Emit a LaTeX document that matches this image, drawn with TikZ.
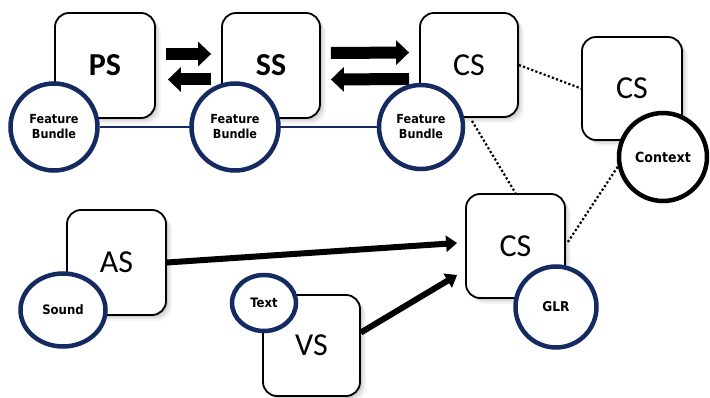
\documentclass[tikz,border=0pt]{standalone}
\usepackage{fontspec}
\setmainfont{Carlito}
\newfontfamily\smallf[FakeStretch=0.9]{DejaVu Sans}
\usetikzlibrary{arrows.meta,shadows,calc,shapes.geometric}
\definecolor{navy}{RGB}{20,42,96}
\pgfdeclarelayer{bg}
\pgfsetlayers{bg,main}
\begin{document}
\begin{tikzpicture}[x=1pt,y=-1pt,
  box/.style={draw=black, line width=1.8pt, rounded corners=14pt, fill=white,
    minimum width=99pt, minimum height=104pt, inner sep=0pt,
    drop shadow={shadow xshift=2pt,shadow yshift=-2pt,opacity=.10,fill=black},
    drop shadow={shadow xshift=4pt,shadow yshift=-4pt,opacity=.07,fill=black},
    drop shadow={shadow xshift=6pt,shadow yshift=-6pt,opacity=.04,fill=black},
    font=\fontsize{32}{34}\selectfont},
  boldbox/.style={box, font=\bfseries\fontsize{32}{34}\selectfont},
  bub/.style={circle, draw=navy, line width=4.5pt, fill=white, inner sep=0pt,
    align=center, font=\smallf\bfseries\fontsize{12.5}{15}\selectfont},
  ebub/.style={ellipse, draw=navy, line width=4.5pt, fill=white, inner sep=0pt,
    align=center, font=\smallf\bfseries\fontsize{13}{15}\selectfont},
  blockarr/.style={line width=12pt, -{Triangle[length=13pt,width=24pt]}},
  thickarr/.style={line width=6pt, -{Triangle[length=11pt,width=16pt]}},
  dotline/.style={line width=2.2pt, dash pattern=on 2.2pt off 2.2pt}
]
\useasboundingbox (0,0) rectangle (710,398);

% boxes
\node[boldbox, minimum width=100pt, minimum height=105pt] (ps) at (105,65.5) {PS};
\node[boldbox, minimum width=98pt, minimum height=105pt] (ss) at (271,65.5) {SS};
\node[box, minimum width=98pt] (cs1) at (469,65) {CS};
\node[box, minimum width=100pt, minimum height=103pt] (cs2) at (632,88.5) {CS};
\node[box] (csm) at (515.5,246) {CS};
\node[box, minimum height=105pt] (as) at (116.5,262.5) {AS};
\node[box, minimum width=97pt, minimum height=101pt] (vs) at (311.5,345.5) {VS};

% bubbles
\node[bub, minimum size=87pt] (fb1) at (54,127) {Feature\\Bundle};
\node[bub, minimum size=87pt] (fb2) at (235,127) {Feature\\Bundle};
\node[bub, minimum size=84pt] (fb3) at (421,127) {Feature\\Bundle};
\node[bub, draw=black, minimum size=88pt, font=\smallf\bfseries\fontsize{14}{16}\selectfont] (ctx) at (663,157) {Context};
\node[bub, minimum size=81pt, font=\smallf\bfseries\fontsize{13.5}{16}\selectfont] (glr) at (556,307) {GLR};
\node[ebub, minimum width=85pt, minimum height=73pt] (snd) at (63,310) {Sound};
\node[ebub, minimum width=64pt, minimum height=56pt] (txt) at (264,303) {Text};

\begin{pgfonlayer}{bg}
  % block arrows
  \draw[blockarr] ($(ps.east)+(10,-11.5)$) -- ($(ss.west)+(-10,-11.5)$);
  \draw[blockarr] ($(ss.west)+(-10,14)$) -- ($(ps.east)+(12,14)$);
  \draw[blockarr] ($(ss.east)+(10,-12.5)$) -- ($(cs1.west)+(-10,-12.5)$);
  \draw[blockarr] ($(cs1.west)+(-10,14)$) -- ($(ss.east)+(10,14)$);
  % feature bundle line
  \draw[navy, line width=2.2pt] (fb1) -- (fb3);
  % dotted lines
  \draw[dotline] (cs1.east) -- (cs2.west);
  \draw[dotline] ($(cs1.south)+(3,3)$) -- (csm.north);
  \draw[dotline] ($(csm.east)+(2,-4)$) -- (ctx.192);
  % thick arrows
  \draw[thickarr] (as.east) -- ($(csm.west)+(-8,-3)$);
  \draw[thickarr] ($(vs.east)+(0,-13)$) -- ($(csm.west)+(-8,29)$);
\end{pgfonlayer}
\end{tikzpicture}
\end{document}
